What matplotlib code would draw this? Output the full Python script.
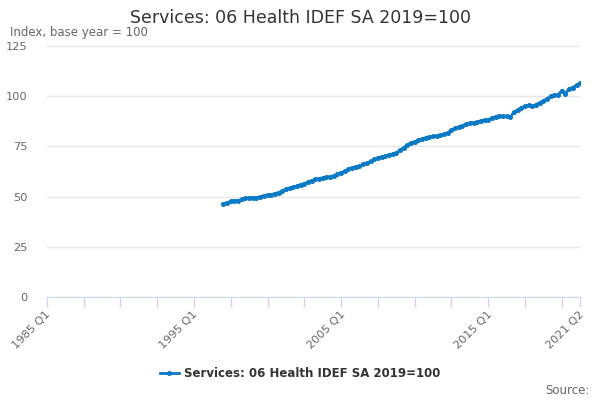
import matplotlib
matplotlib.use("Agg")
import matplotlib.pyplot as plt

# ============================================================
# DATA (quarterly 1997 Q1 .. 2021 Q2)
# ============================================================
AXIS_START_YEAR = 1985
SERIES_START_YEAR = 1997
AXIS_LAST = "2021 Q2"

health_index = [
    46.5, 47.0, 47.6, 48.0, 48.0, 48.7, 49.3, 49.5, 49.5, 49.5,
    49.8, 50.5, 50.8, 51.0, 51.5, 52.0, 52.8, 53.6, 54.2, 54.7,
    55.3, 56.0, 56.5, 57.2, 58.0, 58.6, 59.0, 59.3, 59.6, 60.0,
    60.3, 61.3, 62.0, 62.7, 63.7, 64.4, 64.9, 65.3, 66.0, 66.8,
    67.5, 68.5, 69.3, 69.8, 70.3, 70.8, 71.3, 71.8, 73.0, 74.3,
    75.8, 76.8, 77.4, 78.0, 78.7, 79.3, 79.8, 80.0, 80.2, 80.6,
    81.0, 81.8, 83.2, 84.0, 84.6, 85.4, 86.0, 86.5, 86.9, 87.2,
    87.8, 88.2, 88.2, 89.3, 89.8, 90.2, 90.2, 90.0, 89.7, 92.0,
    93.2, 94.3, 95.0, 95.6, 95.0, 95.8, 96.8, 97.7, 98.8, 100.0,
    100.5, 100.7, 102.8, 101.3, 103.8, 104.3, 105.6, 106.4,
]

y_ticks = [0, 25, 50, 75, 100, 125]
x_label_quarters = ["1985 Q1", "1995 Q1", "2005 Q1", "2015 Q1", "2021 Q2"]

TITLE = "Services: 06 Health IDEF SA 2019=100"
SUBTITLE = "Index, base year = 100"

LINE_COLOR = "#0a7ac6"
AXIS_COLOR = "#ccd6eb"
GRID_COLOR = "#e6e6e6"
TEXT_GRAY = "#666666"


def quarter_pos(label):
    # "YYYY Qn" -> quarters since axis start
    year, q = label.split(" Q")
    return (int(year) - AXIS_START_YEAR) * 4 + int(q) - 1


# ============================================================
# PLOT
# ============================================================
fig = plt.figure(figsize=(6, 4), dpi=100)
ax = fig.add_axes([0.078, 0.2575, 0.889, 0.6275])

offset = (SERIES_START_YEAR - AXIS_START_YEAR) * 4
x_vals = [offset + i for i in range(len(health_index))]
ax.plot(x_vals, health_index, color=LINE_COLOR, linewidth=2,
        marker="o", markersize=2.6, label=TITLE)

last = quarter_pos(AXIS_LAST)
ax.set_xlim(0, last)
ax.set_ylim(0, 125)

# ticks every 10 quarters, labels only on a few
major = list(range(0, last, 10)) + [last]
ax.set_xticks(major)
ax.set_xticklabels([""] * len(major))
for lab in x_label_quarters:
    ax.annotate(lab, xy=(quarter_pos(lab), 0), xycoords=("data", "axes fraction"),
                xytext=(-1, -9), textcoords="offset points",
                rotation=45, ha="right", va="top", fontsize=8.2, color=TEXT_GRAY,
                rotation_mode="anchor")
ax.tick_params(axis="x", length=7.2, color=AXIS_COLOR, width=1)

ax.set_yticks(y_ticks)
ax.tick_params(axis="y", length=0, labelsize=8.2, labelcolor=TEXT_GRAY, pad=14)
ax.grid(axis="y", color=GRID_COLOR, linewidth=1)
ax.set_axisbelow(True)

for side in ("top", "right", "left"):
    ax.spines[side].set_visible(False)
ax.spines["bottom"].set_color(AXIS_COLOR)
ax.spines["bottom"].set_zorder(0)

fig.text(0.5, 0.955, TITLE, ha="center", va="center", fontsize=12.5, color="#333333")
fig.text(0.017, 0.918, SUBTITLE, ha="left", va="center", fontsize=8.5, color=TEXT_GRAY)

leg = fig.legend(loc="center", bbox_to_anchor=(0.5, 0.067), frameon=False,
                 prop={"size": 8.5, "weight": "bold"}, handlelength=1.6,
                 handletextpad=0.4)
for t in leg.get_texts():
    t.set_color("#333333")

fig.text(0.982, 0.025, "Source:", ha="right", va="center", fontsize=8.5, color=TEXT_GRAY)

fig.savefig("out.png", dpi=100)
